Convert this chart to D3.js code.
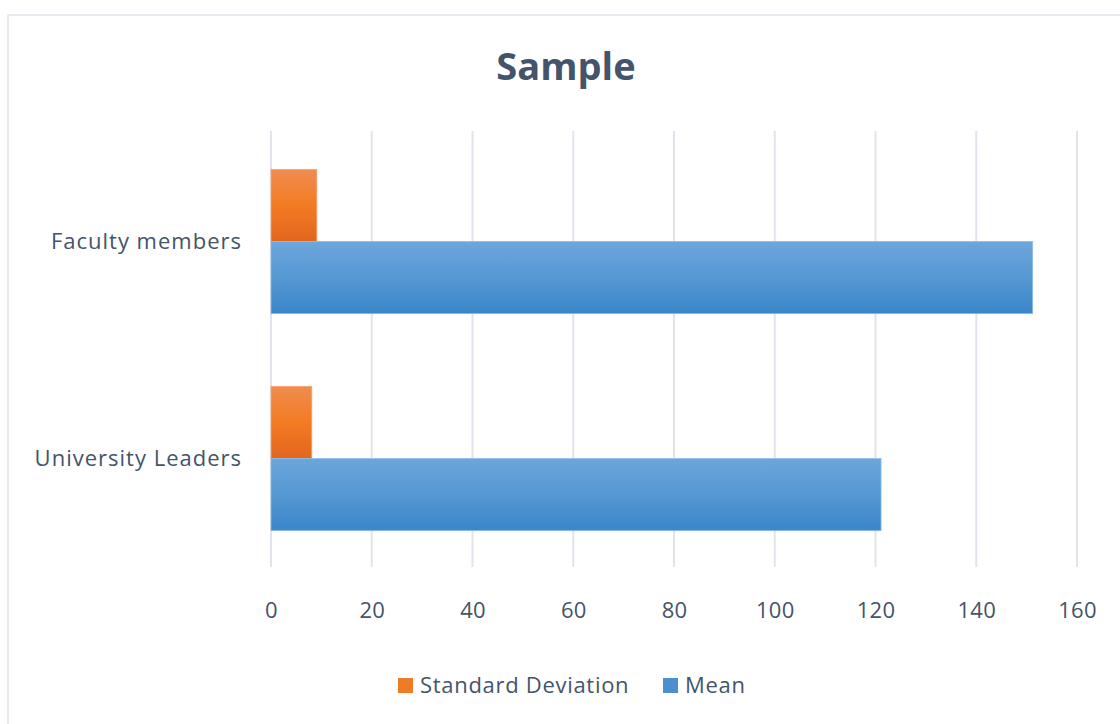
<!DOCTYPE html>
<html>
<head>
<meta charset="utf-8">
<script src="https://cdn.jsdelivr.net/npm/d3@7"></script>
<style>
  html, body { margin: 0; padding: 0; background: #fff; }
  svg { display: block; font-family: "Open Sans", "Liberation Sans", sans-serif; }
</style>
</head>
<body>
<svg id="chart" width="1120" height="724"></svg>
<script>
// Sample statistics per respondent group
const categories = ["Faculty members", "University Leaders"];
const seriesNames = ["Standard Deviation", "Mean"];
const stdDevValues = [9.1, 8.1];
const meanValues = [151.2, 121.1];
const xTicks = [0, 20, 40, 60, 80, 100, 120, 140, 160];
const chartTitle = "Sample";

const seriesValues = { "Standard Deviation": stdDevValues, "Mean": meanValues };
const rows = categories.map((c, i) => ({
  category: c,
  values: seriesNames.map(s => ({ series: s, value: seriesValues[s][i] }))
}));

const svg = d3.select("#chart");
const textColor = "#44546a";

// Outer chart frame
svg.append("rect")
  .attr("x", 8).attr("y", 15).attr("width", 1300).attr("height", 900)
  .attr("fill", "#fff").attr("stroke", "#dfe3ec").attr("stroke-width", 1.5);

// Bar gradients
const defs = svg.append("defs");
function gradient(id, stops) {
  const g = defs.append("linearGradient").attr("id", id)
    .attr("x1", 0).attr("y1", 0).attr("x2", 0).attr("y2", 1);
  stops.forEach(([o, c]) => g.append("stop").attr("offset", o).attr("stop-color", c));
}
gradient("grad-sd", [[0, "#f08c50"], [0.5, "#f37b22"], [1, "#e1661f"]]);
gradient("grad-mean", [[0, "#6ca6db"], [0.5, "#5598d3"], [1, "#3a86c9"]]);
const fills = { "Standard Deviation": "url(#grad-sd)", "Mean": "url(#grad-mean)" };
const swatch = { "Standard Deviation": "#f07b27", "Mean": "#4a90d0" };

const x = d3.scaleLinear().domain([0, 160]).range([271, 1077]);
const y = d3.scaleBand().domain(categories).range([133, 567]).paddingInner(0.335).paddingOuter(0.1675);
const ySub = d3.scaleBand().domain(seriesNames).range([0, y.bandwidth()]);

// Vertical gridlines
svg.append("g").selectAll("line").data(xTicks).join("line")
  .attr("x1", d => x(d)).attr("x2", d => x(d))
  .attr("y1", 131).attr("y2", 567)
  .attr("stroke", "#e1e4ec").attr("stroke-width", 2);

// Bars
const groups = svg.append("g").selectAll("g").data(rows).join("g")
  .attr("transform", d => `translate(0,${y(d.category)})`);
groups.selectAll("rect").data(d => d.values).join("rect")
  .attr("x", x(0))
  .attr("y", d => ySub(d.series))
  .attr("width", d => x(d.value) - x(0))
  .attr("height", ySub.bandwidth())
  .attr("fill", d => fills[d.series])
  .attr("stroke", d => d.series === "Mean" ? "#8fbbe6" : "#f4a574")
  .attr("stroke-width", 0.8);

// X axis labels
const xAxis = d3.axisBottom(x).tickValues(xTicks).tickSize(0).tickPadding(0);
const xg = svg.append("g").attr("transform", "translate(0,602)").call(xAxis);
xg.select(".domain").remove();
xg.selectAll("text").attr("font-size", 22).attr("fill", textColor)
  .attr("font-family", "'Open Sans', sans-serif").attr("dy", "0.71em")
  .attr("letter-spacing", 0.3);

// Y axis category labels
const yAxis = d3.axisLeft(y).tickSize(0).tickPadding(0);
const yg = svg.append("g").attr("transform", "translate(242,0)").call(yAxis);
yg.select(".domain").remove();
yg.selectAll("text").attr("font-size", 22).attr("fill", textColor)
  .attr("font-family", "'Open Sans', sans-serif").attr("letter-spacing", 1);

// Title
svg.append("text")
  .attr("x", 566).attr("y", 80)
  .attr("text-anchor", "middle")
  .attr("font-size", 38).attr("font-weight", 700)
  .attr("fill", textColor)
  .text(chartTitle);

// Legend
const legendItems = [
  { name: "Standard Deviation", x: 398 },
  { name: "Mean", x: 663 }
];
const lg = svg.append("g").selectAll("g").data(legendItems).join("g")
  .attr("transform", d => `translate(${d.x},678)`);
lg.append("rect").attr("width", 15).attr("height", 15).attr("fill", d => swatch[d.name]);
lg.append("text").attr("x", 22).attr("y", 15)
  .attr("font-size", 22).attr("fill", textColor).attr("letter-spacing", 0.7)
  .text(d => d.name);
</script>
</body>
</html>
